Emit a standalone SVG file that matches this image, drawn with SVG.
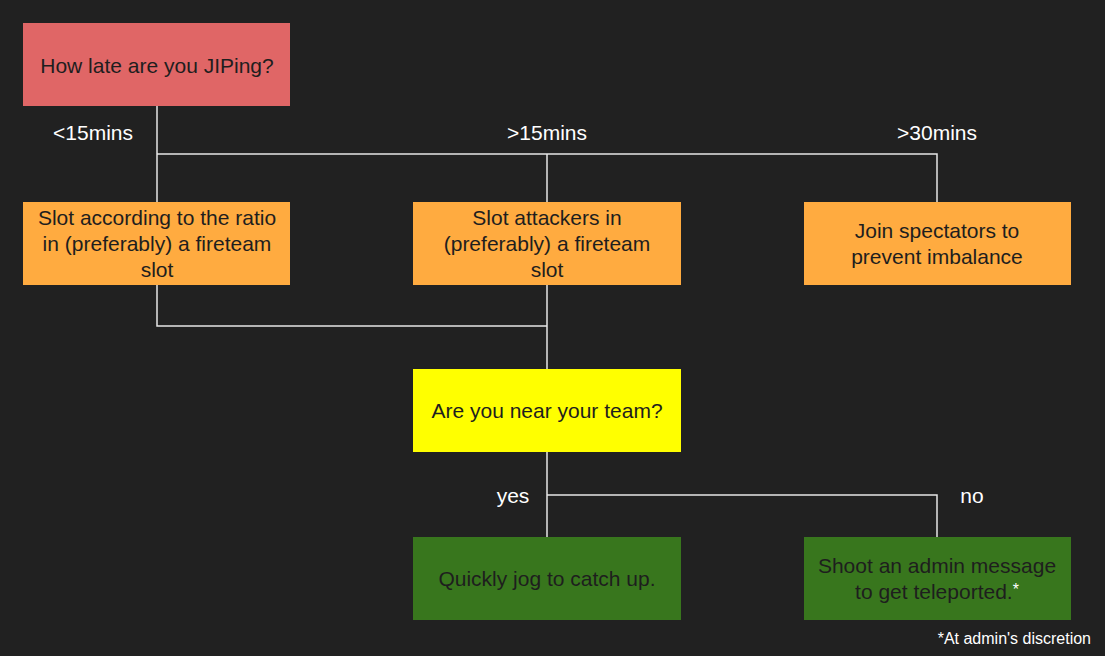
<svg xmlns="http://www.w3.org/2000/svg" width="1105" height="656" viewBox="0 0 1105 656">
<style>
.t{font-family:"Liberation Sans",Arial,sans-serif;font-size:21px;text-anchor:middle;fill:#1e1e1e}
.l{font-family:"Liberation Sans",Arial,sans-serif;font-size:21px;text-anchor:middle;fill:#ffffff}
.c{fill:none;stroke:#e6e6e6;stroke-width:1.5}
</style>
<rect width="1105" height="656" fill="#212121"/>
<g id="connectors">
<path class="c" d="M157 106V202M157 154H937V202M547 154V202"/>
<path class="c" d="M157 285V326H547M547 285V369"/>
<path class="c" d="M547 452V537M547 495H937V537"/>
<text class="l" x="93" y="140">&lt;15mins</text>
<text class="l" x="547" y="140">&gt;15mins</text>
<text class="l" x="937" y="140">&gt;30mins</text>
<text class="l" x="513" y="503">yes</text>
<text class="l" x="972" y="503">no</text>
</g>
<g id="start"><rect x="23" y="23" width="267" height="83" fill="#e06666"/><text class="t" x="157" y="73">How late are you JIPing?</text></g>
<g id="lt15"><rect x="23" y="202" width="267" height="83" fill="#ffab40"/><text class="t" x="157" y="225">Slot according to the ratio</text><text class="t" x="157" y="251">in (preferably) a fireteam</text><text class="t" x="157" y="277">slot</text></g>
<g id="gt15"><rect x="413" y="202" width="268" height="83" fill="#ffab40"/><text class="t" x="547" y="225">Slot attackers in</text><text class="t" x="547" y="251">(preferably) a fireteam</text><text class="t" x="547" y="277">slot</text></g>
<g id="gt30"><rect x="804" y="202" width="267" height="83" fill="#ffab40"/><text class="t" x="937" y="238">Join spectators to</text><text class="t" x="937" y="264">prevent imbalance</text></g>
<g id="near"><rect x="413" y="369" width="268" height="83" fill="#ffff00"/><text class="t" x="547" y="418">Are you near your team?</text></g>
<g id="yes"><rect x="413" y="537" width="268" height="83" fill="#38761d"/><text class="t" x="547" y="586">Quickly jog to catch up.</text></g>
<g id="no"><rect x="804" y="537" width="267" height="83" fill="#38761d"/><text class="t" x="937" y="573">Shoot an admin message</text><text class="t" x="937" y="599">to get teleported.<tspan fill="#ffffff" font-size="16" dy="-4">*</tspan></text></g>
<text x="1091" y="644" font-family="'Liberation Sans',Arial,sans-serif" font-size="16" fill="#ffffff" text-anchor="end">*At admin's discretion</text>
</svg>
